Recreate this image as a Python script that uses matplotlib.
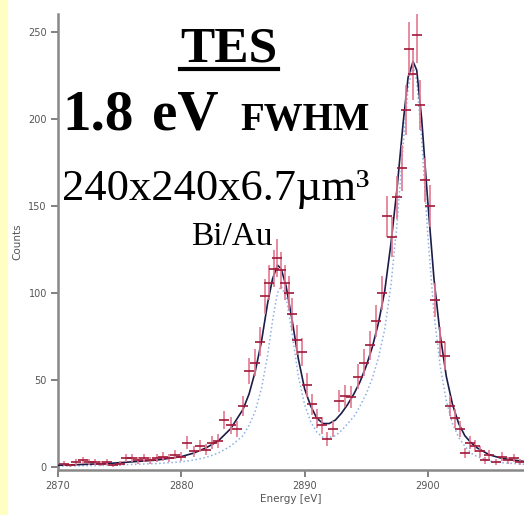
# Imports
import matplotlib
matplotlib.use("Agg")
import matplotlib.pyplot as plt
from matplotlib.patches import Rectangle
from matplotlib.lines import Line2D
import numpy as np

# Measured spectrum (red points)
energy = [2870.5, 2871.0, 2871.5, 2872.0, 2872.5, 2873.0, 2873.5, 2874.0, 2874.5,
          2875.0, 2875.5, 2876.0, 2876.5, 2877.0, 2877.5, 2878.0, 2878.5, 2879.0,
          2879.5, 2880.0, 2880.5, 2881.0, 2881.5, 2882.0, 2882.5, 2883.0, 2883.5,
          2884.0, 2884.5, 2885.0, 2885.5, 2886.0, 2886.4, 2886.8, 2887.1, 2887.5,
          2887.8, 2888.1, 2888.4, 2888.7, 2889.0, 2889.4, 2889.8, 2890.2, 2890.6,
          2891.0, 2891.4, 2891.8, 2892.3, 2892.8, 2893.3, 2893.8, 2894.3, 2894.8,
          2895.3, 2895.8, 2896.3, 2896.7, 2897.1, 2897.5, 2897.9, 2898.2, 2898.5,
          2898.8, 2899.1, 2899.4, 2899.8, 2900.2, 2900.6, 2901.0, 2901.4, 2901.8,
          2902.2, 2902.6, 2903.0, 2903.4, 2903.8, 2904.2, 2904.6, 2905.0, 2905.5,
          2906.0, 2906.5, 2907.0, 2907.5]
counts = [2, 1, 3, 4, 3, 3, 2, 3, 1,
          2, 5, 5, 4, 5, 4, 5, 6, 5,
          7, 6, 14, 9, 12, 10, 14, 15, 27,
          24, 22, 35, 55, 60, 72, 98, 106, 114,
          120, 113, 106, 100, 88, 73, 66, 47, 36,
          28, 24, 16, 22, 38, 41, 40, 52, 60,
          70, 84, 100, 144, 132, 155, 172, 205, 240,
          226, 248, 208, 165, 150, 96, 72, 64, 35,
          28, 22, 8, 14, 12, 9, 4, 7, 3,
          6, 4, 5, 3]

# Fit (solid) and line shape (dotted)
fit_e = [2870, 2872, 2874, 2876, 2878, 2880, 2881, 2882, 2883, 2884, 2885, 2885.5,
         2886, 2886.5, 2887, 2887.4, 2887.8, 2888.1, 2888.5, 2889, 2889.5, 2890,
         2890.5, 2891, 2891.5, 2892, 2892.5, 2893, 2893.5, 2894, 2894.5, 2895,
         2895.5, 2896, 2896.5, 2897, 2897.5, 2898, 2898.4, 2898.8, 2899.1, 2899.5,
         2900, 2900.5, 2901, 2901.5, 2902, 2902.5, 2903, 2903.5, 2904, 2905, 2906,
         2907, 2908]
fit_c = [1, 1.5, 2, 3, 4, 6, 8, 11, 15, 22, 33, 42,
         55, 72, 94, 108, 116, 114, 104, 84, 62, 45,
         35, 28, 25, 25, 27, 31, 36, 42, 49, 58,
         69, 83, 101, 128, 160, 198, 224, 233, 228, 200,
         152, 108, 76, 52, 36, 25, 18, 14, 11, 7, 5,
         4, 3]
dot_c = [0.5, 0.7, 1, 1.5, 2, 3, 4, 5.5, 8, 12, 18, 24,
         32, 45, 64, 84, 100, 104, 98, 76, 52, 36,
         26, 20, 17, 17, 18, 21, 25, 29, 35, 42,
         51, 63, 79, 104, 140, 185, 218, 230, 222, 188,
         133, 88, 58, 38, 25, 17, 12, 8, 6, 3.5, 2.5,
         2, 1.5]

x_ticks = [2870, 2880, 2890, 2900]
y_ticks = [0, 50, 100, 150, 200, 250]


def main():
    fig = plt.figure(figsize=(5.24, 5.15), dpi=100)
    # yellow strip on the left edge
    fig.add_artist(Rectangle((0, 0), 7 / 524, 1, transform=fig.transFigure,
                             color="#FFFFC4", zorder=0))
    ax = fig.add_axes([58 / 524, 45 / 515, 466 / 524, 456 / 515])

    # curves
    ax.plot(fit_e, dot_c, ":", color="#8cb0e4", lw=1.1, zorder=2)
    ax.plot(fit_e, fit_c, "-", color="#1c1c48", lw=1.2, zorder=3)
    # data with error bars (poisson)
    err = np.sqrt(counts)
    ax.errorbar(energy, counts, yerr=err, fmt="_", color="#a01838", ms=7, mew=1.2,
                ecolor="#e47890", elinewidth=1.2, capsize=0, zorder=4)

    ax.set_xlim(2870, 2907.8)
    ax.set_ylim(-1.7, 260.3)
    ax.set_xticks(x_ticks)
    ax.set_yticks(y_ticks)
    ax.tick_params(direction="out", length=5, width=1.3, color="#777",
                   labelsize=7, labelcolor="#555", pad=3)
    for s in ["top", "right"]:
        ax.spines[s].set_visible(False)
    for s in ["left", "bottom"]:
        ax.spines[s].set_color("#888")
        ax.spines[s].set_linewidth(1.8)
    ax.set_xlabel("Energy [eV]", fontsize=7.5, color="#555", labelpad=2)
    ax.set_ylabel("Counts", fontsize=7.5, color="#555", labelpad=4)

    # annotations
    serif = "Liberation Serif"
    fig.text(229 / 524, 1 - 62 / 515, "TES", family=serif, weight="bold",
             fontsize=37, ha="center", va="baseline")
    fig.add_artist(Line2D([180 / 524, 278 / 524], [1 - 69 / 515, 1 - 69 / 515],
                          transform=fig.transFigure, color="black", lw=3))
    fig.text(62 / 524, 1 - 130 / 515, "1.8", family=serif, weight="bold",
             fontsize=41, ha="left", va="baseline")
    fig.text(152 / 524, 1 - 130 / 515, "eV", family=serif, weight="bold",
             fontsize=41, ha="left", va="baseline")
    fig.text(240 / 524, 1 - 130 / 515, "FWHM", family=serif, weight="bold",
             fontsize=28, ha="left", va="baseline")
    fig.text(62 / 524, 1 - 200 / 515, "240x240x6.7\u00b5m\u00b3", family=serif,
             fontsize=32, ha="left", va="baseline")
    fig.text(232 / 524, 1 - 245 / 515, "Bi/Au", family=serif,
             fontsize=24, ha="center", va="baseline")

    plt.savefig("out.png", dpi=100)


if __name__ == "__main__":
    main()
